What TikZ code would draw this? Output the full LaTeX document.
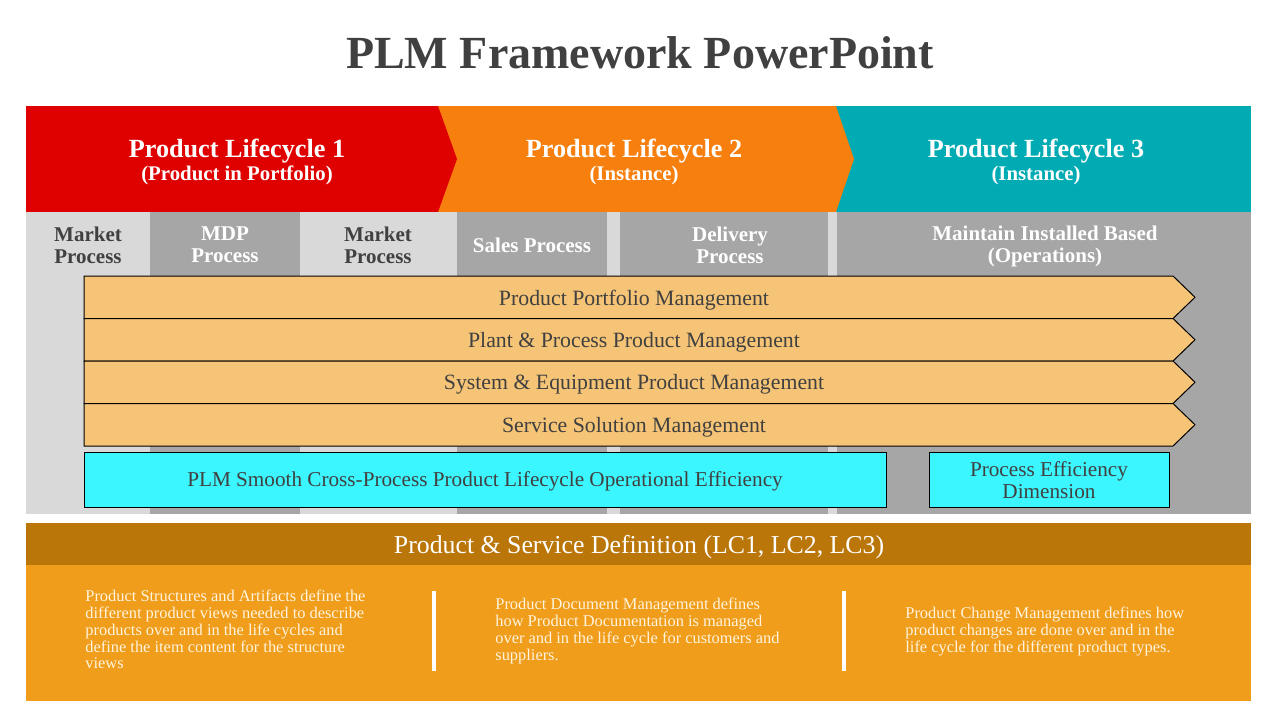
\documentclass[tikz,border=0pt]{standalone}
\usepackage{fontspec}
\setmainfont{Liberation Serif}
\usetikzlibrary{positioning}
\definecolor{lcred}{HTML}{DF0000}
\definecolor{lcorange}{HTML}{F77F0D}
\definecolor{lcteal}{HTML}{00ABB3}
\definecolor{proclight}{HTML}{D9D9D9}
\definecolor{procdark}{HTML}{A6A6A6}
\definecolor{rowfill}{HTML}{F6C476}
\definecolor{effcyan}{HTML}{3BF6FE}
\definecolor{defdark}{HTML}{BB7609}
\definecolor{deflight}{HTML}{F09D1B}
\definecolor{txtgray}{HTML}{404040}
\definecolor{bodytxt}{HTML}{FFF4DE}

\begin{document}
\begin{tikzpicture}[
    x=0.5pt, y=-0.5pt,
    title/.style={font=\fontsize{23}{27}\selectfont\bfseries, text=txtgray},
    lchead/.style={font=\fontsize{13.1}{15}\selectfont\bfseries, text=white},
    lcsub/.style={font=\fontsize{10.4}{12}\selectfont\bfseries, text=white},
    proclab/.style={font=\fontsize{10.5}{11}\selectfont\bfseries, align=center, inner sep=0pt},
    rowarrow/.style={fill=rowfill, draw=black, line width=0.5pt},
    rowtext/.style={font=\fontsize{10.9}{12}\selectfont, text=txtgray, inner sep=0pt},
    effbox/.style={fill=effcyan, draw=black, line width=0.5pt},
    efftext/.style={font=\fontsize{10.6}{11}\selectfont, text=txtgray, align=center, inner sep=0pt},
    defhead/.style={font=\fontsize{12.9}{15}\selectfont, text=white},
    deftext/.style={font=\fontsize{8.2}{8.35}\selectfont, text=bodytxt, align=left, anchor=north west, inner sep=0pt},
    divider/.style={white, line width=2pt},
  ]
  \useasboundingbox (0,0) rectangle (1280,720);

  % --- title -----------------------------------------------------------------
  \node[title] (title) at (640,53) {PLM Framework PowerPoint};

  % --- lifecycle chevrons ----------------------------------------------------
  \fill[lcteal] (836,106) rectangle (1251,212);
  \fill[lcorange] (438,106) -- (836,106) -- (854,159) -- (836,212) -- (438,212) -- cycle;
  \fill[lcred] (26,106) -- (438,106) -- (457,159) -- (438,212) -- (26,212) -- cycle;
  \foreach \i/\cx/\sub in {1/237/Product in Portfolio, 2/634/Instance, 3/1036/Instance} {
    \node[lchead] (lc\i) at (\cx,151) {Product Lifecycle \i};
    \node[lcsub] (lcsub\i) at (\cx,175) {(\sub)};
  }

  % --- process columns -------------------------------------------------------
  \fill[proclight] (26,212) rectangle (1251,514);
  \foreach \l/\r in {150/300, 457/607, 620/828, 837/1251}
    \fill[procdark] (\l,212) rectangle (\r,514);
  \node[proclab, text=txtgray] (mkt1) at (88,245) {Market\\Process};
  \node[proclab, text=white] (mdp) at (225,245) {MDP\\Process};
  \node[proclab, text=txtgray] (mkt2) at (378,245) {Market\\Process};
  \node[proclab, text=white] (sales) at (532,245) {Sales Process};
  \node[proclab, text=white] (deliv) at (730,245) {Delivery\\Process};
  \node[proclab, text=white] (maint) at (1045,246) {Maintain Installed Based\\(Operations)};

  % --- management rows -------------------------------------------------------
  \foreach \i/\y/\txt in {1/276/Product Portfolio Management,
                          2/318.5/Plant \& Process Product Management,
                          3/361/System \& Equipment Product Management,
                          4/403.5/Service Solution Management} {
    \pgfmathsetmacro\mid{\y+21.25}
    \pgfmathsetmacro\bot{\y+42.5}
    \draw[rowarrow] (84,\y) -- (1173,\y) -- (1195,\mid) -- (1173,\bot) -- (84,\bot) -- cycle;
    \node[rowtext] (row\i) at (634,\mid+2.5) {\txt};
  }

  % --- efficiency boxes ------------------------------------------------------
  \draw[effbox] (84,452) rectangle (886,507);
  \node[efftext] (smooth) at (485,481.5) {PLM Smooth Cross-Process Product Lifecycle Operational Efficiency};
  \draw[effbox] (929,452) rectangle (1169,507);
  \node[efftext] (effdim) at (1049,480.5) {Process Efficiency\\Dimension};

  % --- product & service definition -----------------------------------------
  \fill[defdark] (26,523) rectangle (1251,565);
  \fill[deflight] (26,565) rectangle (1251,701);
  \node[defhead] (defhead) at (639,547) {Product \& Service Definition (LC1, LC2, LC3)};
  \draw[divider] (434,591) -- (434,671);
  \draw[divider] (844,591) -- (844,671);

  \node[deftext] (struct) at (85,590) {Product Structures and Artifacts define the\\
    different product views needed to describe\\
    products over and in the life cycles and\\
    define the item content for the structure\\
    views};
  \node[deftext] (docs) at (495,598) {Product Document Management defines\\
    how Product Documentation is managed\\
    over and in the life cycle for customers and\\
    suppliers.};
  \node[deftext] (change) at (905,607) {Product Change Management defines how\\
    product changes are done over and in the\\
    life cycle for the different product types.};

\end{tikzpicture}
\end{document}
